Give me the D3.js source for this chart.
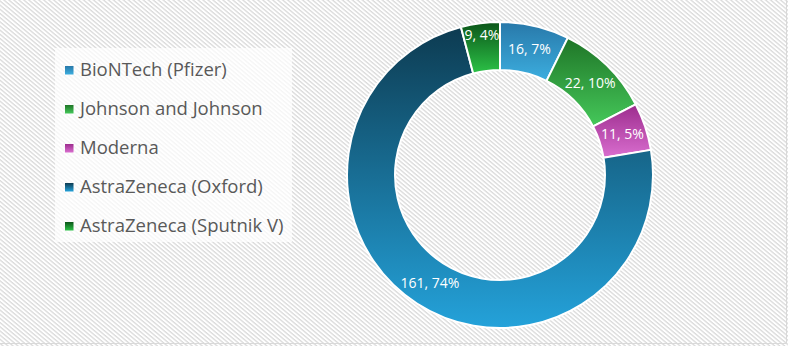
<!DOCTYPE html>
<html>
<head>
<meta charset="utf-8">
<script src="https://cdn.jsdelivr.net/npm/d3@7"></script>
<style>
    body { margin: 0; background: #fff; }
    #donutChart { width: 788px; height: 346px; }
</style>
</head>
<body>
<div id="donutChart"></div>
<script>
// chart data
var vaccines = ["BioNTech (Pfizer)", "Johnson and Johnson", "Moderna", "AstraZeneca (Oxford)", "AstraZeneca (Sputnik V)"];
var counts = [16, 22, 11, 161, 9];
var percentLabels = ["7%", "10%", "5%", "74%", "4%"];
// gradient stops (top, bottom) per slice
var darkColors = ["#2878a9", "#1f7527", "#9c2c8d", "#0d3b51", "#0b5519"];
var lightColors = ["#3caedf", "#45c85a", "#d96ecf", "#24a2da", "#2cc247"];

function DonutChart() {
    var self = this;
    self.init();
}

DonutChart.prototype.init = function () {
    var self = this;
    var div = d3.select("#donutChart");

    self.svgWidth = 788;
    self.svgHeight = 346;
    self.cx = 500;
    self.cy = 175;
    self.outerRadius = 153;
    self.innerRadius = 105;

    self.svg = div.append("svg")
        .attr("width", self.svgWidth)
        .attr("height", self.svgHeight);

    var defs = self.svg.append("defs");

    // diagonal stripe background
    var pattern = defs.append("pattern")
        .attr("id", "stripes")
        .attr("patternUnits", "userSpaceOnUse")
        .attr("width", 3.2)
        .attr("height", 3.2)
        .attr("patternTransform", "rotate(40)");
    pattern.append("rect").attr("width", 3.2).attr("height", 3.2).attr("fill", "#ffffff");
    pattern.append("rect").attr("width", 3.2).attr("height", 1.3).attr("fill", "#dadada");

    defs.selectAll("linearGradient")
        .data(vaccines)
        .enter()
        .append("linearGradient")
        .attr("id", function (d, i) { return "grad" + i; })
        .attr("x1", 0).attr("y1", 0).attr("x2", 0).attr("y2", 1)
        .each(function (d, i) {
            var g = d3.select(this);
            g.append("stop").attr("offset", "0%").attr("stop-color", darkColors[i]);
            g.append("stop").attr("offset", "100%").attr("stop-color", lightColors[i]);
        });

    self.svg.append("rect")
        .attr("width", self.svgWidth)
        .attr("height", self.svgHeight)
        .attr("fill", "url(#stripes)");

    // chart area border (right and bottom)
    self.svg.append("path")
        .attr("d", "M786.5,0V343.5H0")
        .attr("fill", "none")
        .attr("stroke", "#d9d9d9")
        .attr("stroke-width", 1);

    self.update();
};

DonutChart.prototype.update = function () {
    var self = this;
    var data = vaccines.map(function (d, i) {
        return { name: d, value: counts[i], pct: percentLabels[i], idx: i };
    });

    var pie = d3.pie()
        .sort(null)
        .value(function (d) { return d.value; });

    var arc = d3.arc()
        .innerRadius(self.innerRadius)
        .outerRadius(self.outerRadius);

    var arcs = pie(data);

    var g = self.svg.append("g")
        .attr("id", "slices")
        .attr("transform", "translate(" + self.cx + "," + self.cy + ")");

    g.selectAll("path")
        .data(arcs)
        .enter()
        .append("path")
        .attr("d", arc)
        .attr("fill", function (d) { return "url(#grad" + d.data.idx + ")"; })
        .attr("stroke", "#ffffff")
        .attr("stroke-width", 2)
        .attr("stroke-linejoin", "round");

    // labels at mid-ring, tiny slices pushed outward
    var midR = (self.innerRadius + self.outerRadius) / 2;
    g.selectAll("text")
        .data(arcs)
        .enter()
        .append("text")
        .attr("transform", function (d) {
            var r = (d.endAngle - d.startAngle) < 0.28 ? midR + 12 : midR;
            var a = (d.startAngle + d.endAngle) / 2;
            return "translate(" + (r * Math.sin(a)) + "," + (-r * Math.cos(a)) + ")";
        })
        .attr("text-anchor", "middle")
        .attr("dy", "0.35em")
        .attr("fill", "#ffffff")
        .style("font-family", "'Open Sans', sans-serif")
        .style("font-size", "14px")
        .text(function (d) { return d.data.value + ", " + d.data.pct; });

    // legend
    var legend = self.svg.append("g").attr("id", "legend");
    legend.append("rect")
        .attr("x", 55)
        .attr("y", 48)
        .attr("width", 237)
        .attr("height", 194)
        .attr("fill", "#ffffff")
        .attr("fill-opacity", 0.72);

    var yScale = d3.scalePoint()
        .domain(vaccines)
        .range([70, 226]);

    var items = legend.selectAll("g.item")
        .data(data)
        .enter()
        .append("g")
        .attr("class", "item")
        .attr("transform", function (d) { return "translate(0," + yScale(d.name) + ")"; });

    items.append("rect")
        .attr("x", 65)
        .attr("y", -4)
        .attr("width", 8.5)
        .attr("height", 8.5)
        .attr("fill", function (d) { return "url(#grad" + d.idx + ")"; });

    items.append("text")
        .attr("x", 80)
        .attr("dy", "0.35em")
        .attr("fill", "#595959")
        .style("font-family", "'Open Sans', sans-serif")
        .style("font-size", "18.5px")
        .text(function (d) { return d.name; });
};

var chart = new DonutChart();
</script>
</body>
</html>
